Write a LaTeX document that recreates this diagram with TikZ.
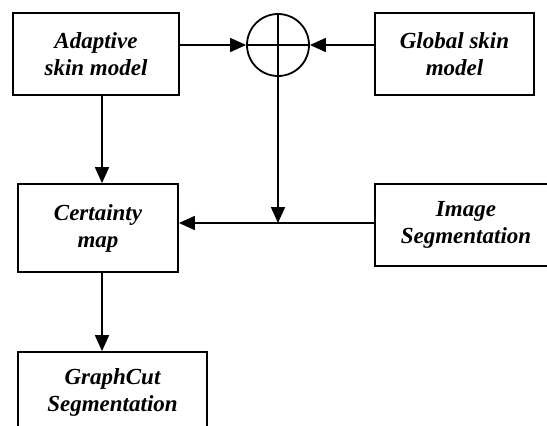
\documentclass[tikz,border=0pt]{standalone}
\usepackage{fontspec}
\setmainfont{Liberation Serif}
\usetikzlibrary{arrows.meta}
\begin{document}
\begin{tikzpicture}[x=1pt,y=-1pt,
  box/.style={draw,line width=1.8pt,rectangle,inner sep=0pt,align=center,
    font=\fontsize{23}{27}\selectfont\bfseries\itshape},
  arr/.style={line width=1.8pt,-{Triangle[length=16pt,width=14pt]}},
  ln/.style={line width=1.8pt}]
\useasboundingbox (0,0) rectangle (547,426);
\clip (0,0) rectangle (547,426);
\node[box,minimum width=166pt,minimum height=82pt] (adapt) at (96,54) {Adaptive\\skin model};
\node[box,minimum width=159pt,minimum height=82pt] (glob) at (454.5,54) {Global skin\\model};
\node[draw,ln,circle,minimum size=62pt,inner sep=0pt] (sum) at (278,45) {};
\node[box,minimum width=160pt,minimum height=88pt] (cert) at (98,228) {Certainty\\map};
\node[box,minimum width=182pt,minimum height=82pt] (img) at (466,225) {Image\\Segmentation};
\node[box,minimum width=189pt,minimum height=80pt] (gc) at (112.5,392) {GraphCut\\Segmentation};
\coordinate (vx) at (102,0);
\coordinate (hy) at (0,223);
\draw[ln] (sum.north) -- (sum.south) (sum.west) -- (sum.east);
\draw[arr] (adapt.east |- sum) -- (sum.west);
\draw[arr] (glob.west |- sum) -- (sum.east);
\draw[arr] (adapt.south -| vx) -- (cert.north -| vx);
\draw[arr] (cert.south -| vx) -- (gc.north -| vx);
\draw[arr] (img.west |- hy) -- (cert.east |- hy);
\draw[arr] (sum.south) -- (sum |- hy);
\end{tikzpicture}
\end{document}
